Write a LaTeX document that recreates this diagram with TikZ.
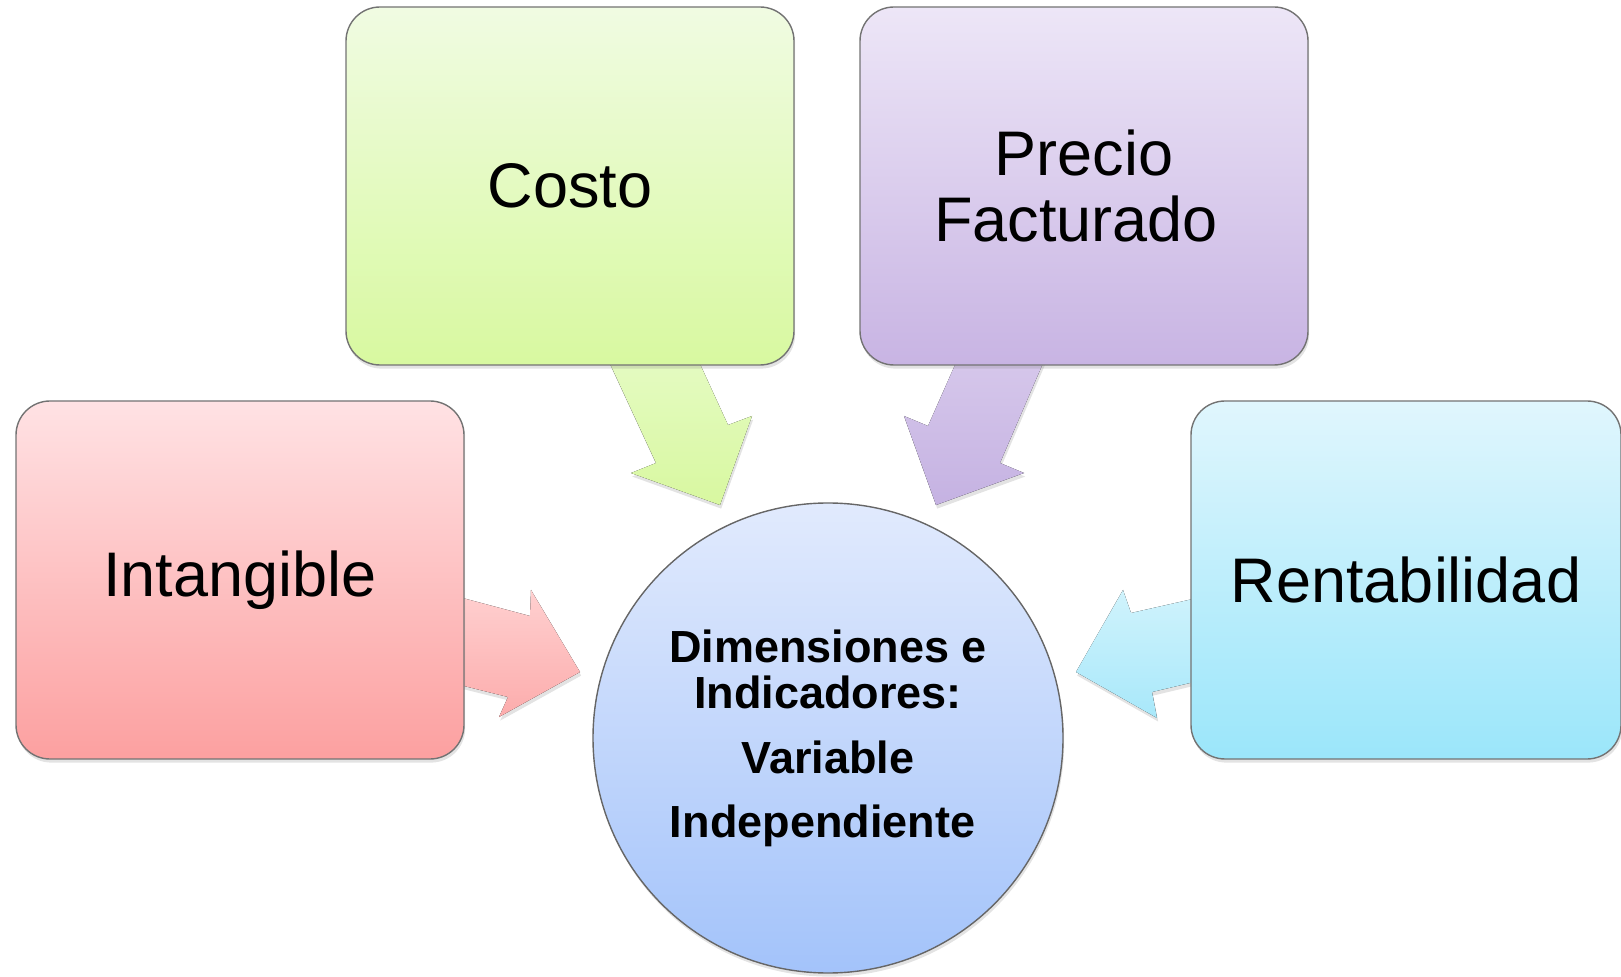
\documentclass[tikz,border=0pt]{standalone}
\usepackage{fontspec}
\setmainfont{Liberation Sans}
\usetikzlibrary{shadows}
\definecolor{gTop}{RGB}{240,251,226}
\definecolor{gBot}{RGB}{216,249,160}
\definecolor{pTop}{RGB}{237,230,247}
\definecolor{pBot}{RGB}{200,180,227}
\definecolor{rTop}{RGB}{255,226,228}
\definecolor{rBot}{RGB}{252,160,160}
\definecolor{cTop}{RGB}{224,246,253}
\definecolor{cBot}{RGB}{155,230,250}
\definecolor{bTop}{RGB}{225,234,253}
\definecolor{bBot}{RGB}{163,195,250}
\definecolor{gaTop}{RGB}{230,251,198}
\definecolor{gaBot}{RGB}{216,248,160}
\definecolor{paTop}{RGB}{216,202,236}
\definecolor{paBot}{RGB}{197,178,226}
\definecolor{raTop}{RGB}{255,208,208}
\definecolor{raBot}{RGB}{252,172,172}
\definecolor{caTop}{RGB}{208,243,252}
\definecolor{caBot}{RGB}{168,232,250}
\begin{document}
\begin{tikzpicture}[x=0.5pt,y=-0.5pt,
  shad/.style={drop shadow={shadow xshift=0.6pt, shadow yshift=-1.8pt, opacity=0.22}},
  box/.style={shad, draw=black!55, line width=0.7pt, rounded corners=17pt,
    minimum width=224pt, minimum height=179pt, inner sep=0pt, align=center,
    font=\fontsize{31.5}{33}\selectfont},
  hub/.style={shad, circle, draw=black!60, line width=0.7pt, minimum size=235pt,
    inner sep=0pt, align=center, top color=bTop, bottom color=bBot,
    font=\bfseries\fontsize{22.5}{23}\selectfont},
  blockarrow/.style={shad}
]
\useasboundingbox (0,0) rectangle (1621,977);

% arrows (drawn first, beneath the boxes)
\fill[blockarrow, top color=gaTop, bottom color=gaBot]
  (599,340) -- (689,340) -- (728,425) -- (752,416) -- (720,505)
  -- (631,473) -- (656,463) -- cycle;
\fill[blockarrow, top color=paTop, bottom color=paBot]
  (966,340) -- (1053,340) -- (1000,463) -- (1024,473) -- (936,505)
  -- (904,416) -- (928,426) -- cycle;
\fill[blockarrow, top color=raTop, bottom color=raBot]
  (440,592) -- (530,616) -- (531,590) -- (580,672) -- (499,717)
  -- (508,697) -- (440,680) -- cycle;
\fill[blockarrow, top color=caTop, bottom color=caBot]
  (1215,594) -- (1131,613) -- (1123,590) -- (1076,672) -- (1157,718)
  -- (1152,692) -- (1215,677) -- cycle;

% boxes
\node[box, top color=gTop, bottom color=gBot] (costo) at (570,186) {Costo};
\node[box, top color=pTop, bottom color=pBot] (precio) at (1084,186) {Precio\\Facturado\hspace*{8pt}};
\node[box, top color=rTop, bottom color=rBot] (intang) at (240,580) {Intangible};
\node[box, minimum width=215pt, top color=cTop, bottom color=cBot] (rentab) at (1406,580) {Rentabilidad};

% hub
\node[hub] (hub) at (828,738) {Dimensiones e\\Indicadores:\\[9.5pt]Variable\\[9pt]Independiente\hspace*{5.5pt}};
\end{tikzpicture}
\end{document}
